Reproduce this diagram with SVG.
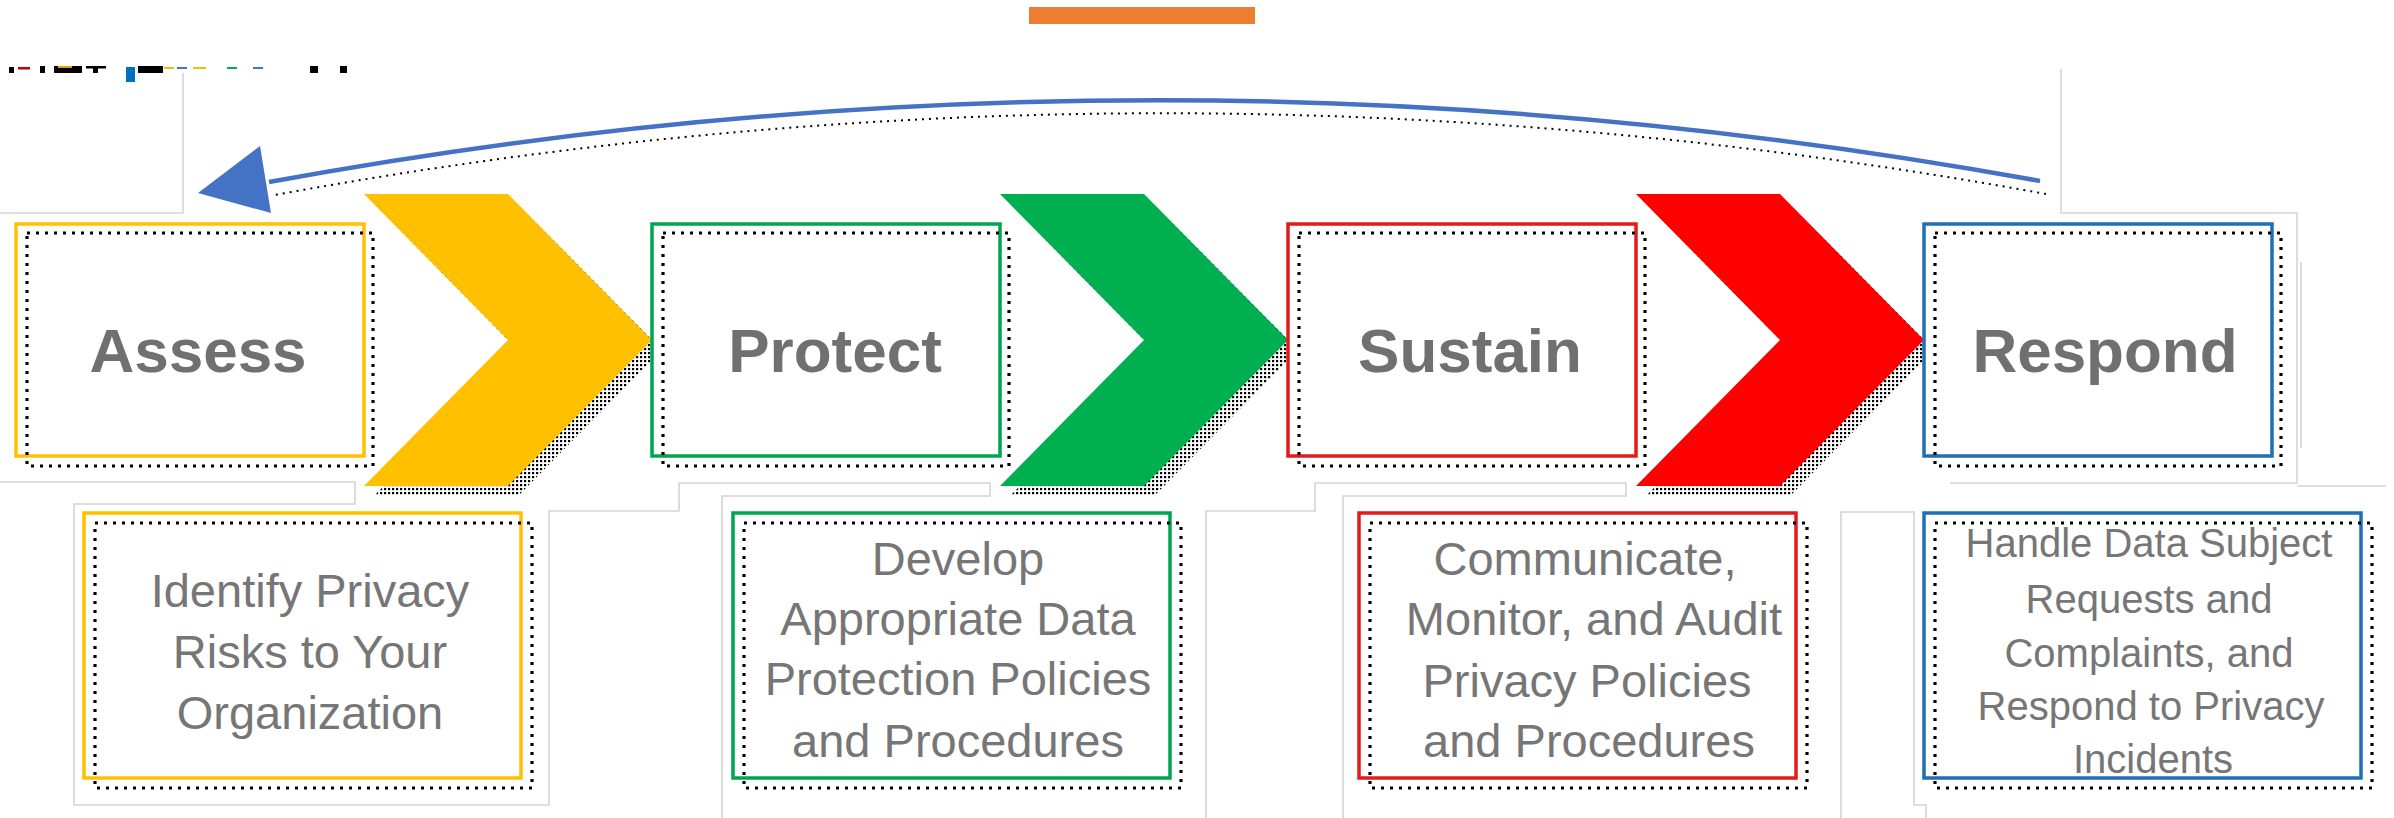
<svg xmlns="http://www.w3.org/2000/svg" width="2394" height="818" viewBox="0 0 2394 818">
<style>
.frame{fill:none;stroke:#d4d4d4;stroke-width:1.6}
.box{fill:#fff;stroke-width:3.5}
.shadow-line{fill:none;stroke:#000;stroke-width:3.2;stroke-dasharray:3 6}
.head{font-family:"Liberation Sans",Arial,sans-serif;font-weight:bold;font-size:62px;fill:#707070;text-anchor:middle}
.body{font-family:"Liberation Sans",Arial,sans-serif;font-size:47px;fill:#767676;text-anchor:middle}
.body-sm{font-family:"Liberation Sans",Arial,sans-serif;font-size:40px;fill:#767676;text-anchor:middle}
</style>
<defs>
<pattern id="dots" width="4" height="4" patternUnits="userSpaceOnUse"><rect width="2.2" height="2.2" fill="#000"/></pattern>
</defs>
<rect width="2394" height="818" fill="#fff"/>

<g id="frames">
<polyline class="frame" points="183,73 183,213 0,213"/>
<polyline class="frame" points="0,482 355,482 355,504 74,504 74,805 549,805 549,511 679,511 679,483 990,483 990,496 722,496 722,818"/>
<polyline class="frame" points="1206,818 1206,511 1315,511 1315,483 1626,483 1626,496 1343,496 1343,818"/>
<polyline class="frame" points="2061,69 2061,213 2297,213 2297,483 1950,483"/>
<polyline class="frame" points="2297,486 2386,486"/>
<polyline class="frame" points="2301,262 2301,448"/>
<polyline class="frame" points="1841,818 1841,512 1914,512 1914,805 1926,805 1926,818"/>
</g>

<g id="title-fragment">
<rect x="9" y="67" width="5" height="6" fill="#000"/>
<rect x="18" y="67" width="12" height="2.5" fill="#c00000"/>
<rect x="40" y="66" width="5" height="7" fill="#000"/>
<rect x="54" y="66" width="28" height="7" fill="#000"/>
<rect x="58" y="66" width="14" height="2" fill="#e8a000"/>
<rect x="86" y="66" width="20" height="2.5" fill="#000"/>
<rect x="93" y="66" width="5" height="7" fill="#000"/>
<rect x="126" y="67" width="9" height="15" fill="#0070c0"/>
<rect x="138" y="66" width="25" height="7" fill="#000"/>
<rect x="164" y="67" width="10" height="2" fill="#f0c000"/>
<rect x="177" y="67" width="10" height="2" fill="#4472c4"/>
<rect x="193" y="67" width="13" height="2" fill="#f0c000"/>
<rect x="227" y="67" width="10" height="2" fill="#00b050"/>
<rect x="253" y="67" width="10" height="2" fill="#4472c4"/>
<rect x="310" y="66" width="8" height="7" fill="#000"/>
<rect x="340" y="66" width="7" height="7" fill="#000"/>
</g>

<rect id="orange-bar" x="1029" y="7" width="226" height="17" fill="#ed7d31"/>

<g id="chevron-yellow">
<polygon points="374,204 518,204 662,350 518,496 374,496 518,350" fill="url(#dots)"/>
<polygon points="364,194 508,194 652,340 508,486 364,486 508,340" fill="#ffc000"/>
</g>
<g id="chevron-green">
<polygon points="1010,204 1154,204 1298,350 1154,496 1010,496 1154,350" fill="url(#dots)"/>
<polygon points="1000,194 1144,194 1288,340 1144,486 1000,486 1144,340" fill="#00b050"/>
</g>
<g id="chevron-red">
<polygon points="1646,204 1790,204 1934,350 1790,496 1646,496 1790,350" fill="url(#dots)"/>
<polygon points="1636,194 1780,194 1924,340 1780,486 1636,486 1780,340" fill="#ff0000"/>
</g>

<g id="node-assess">
<rect class="box" x="16" y="224" width="348" height="232" stroke="#ffc000"/>
<rect class="shadow-line" x="27" y="233" width="346" height="233"/>
<text class="head" x="198" y="372">Assess</text>
</g>
<g id="node-protect">
<rect class="box" x="652" y="224" width="348" height="232" stroke="#00a550"/>
<rect class="shadow-line" x="663" y="233" width="346" height="233"/>
<text class="head" x="835" y="372">Protect</text>
</g>
<g id="node-sustain">
<rect class="box" x="1288" y="224" width="348" height="232" stroke="#e31b1b"/>
<rect class="shadow-line" x="1299" y="233" width="346" height="233"/>
<text class="head" x="1470" y="372">Sustain</text>
</g>
<g id="node-respond">
<rect class="box" x="1924" y="224" width="348" height="232" stroke="#1f6fb5"/>
<rect class="shadow-line" x="1935" y="233" width="346" height="233"/>
<text class="head" x="2105" y="372">Respond</text>
</g>

<g id="node-assess-detail">
<rect class="box" x="84" y="513" width="437" height="265" stroke="#ffc000"/>
<rect class="shadow-line" x="95" y="523" width="437" height="265"/>
<text class="body" x="310"><tspan x="310" y="607">Identify Privacy</tspan><tspan x="310" y="668">Risks to Your</tspan><tspan x="310" y="729">Organization</tspan></text>
</g>
<g id="node-protect-detail">
<rect class="box" x="733" y="513" width="437" height="265" stroke="#00a550"/>
<rect class="shadow-line" x="744" y="523" width="437" height="265"/>
<text class="body" x="958"><tspan x="958" y="575">Develop</tspan><tspan x="958" y="635">Appropriate Data</tspan><tspan x="958" y="695">Protection Policies</tspan><tspan x="958" y="757">and Procedures</tspan></text>
</g>
<g id="node-sustain-detail">
<rect class="box" x="1359" y="513" width="437" height="265" stroke="#e31b1b"/>
<rect class="shadow-line" x="1370" y="523" width="437" height="265"/>
<text class="body" x="1585"><tspan x="1585" y="575">Communicate,</tspan><tspan x="1594" y="635">Monitor, and Audit</tspan><tspan x="1587" y="697">Privacy Policies</tspan><tspan x="1589" y="757">and Procedures</tspan></text>
</g>
<g id="node-respond-detail">
<rect class="box" x="1924" y="513" width="437" height="265" stroke="#1f6fb5"/>
<rect class="shadow-line" x="1935" y="523" width="437" height="265"/>
<text class="body-sm" x="2149"><tspan x="2149" y="557">Handle Data Subject</tspan><tspan x="2149" y="613">Requests and</tspan><tspan x="2149" y="667">Complaints, and</tspan><tspan x="2151" y="720">Respond to Privacy</tspan><tspan x="2153" y="773">Incidents</tspan></text>
</g>

<g id="connectors">
<path d="M2046,194 Q1161,32 275,195" fill="none" stroke="#000" stroke-width="2" stroke-dasharray="2 5"/>
<path d="M2040,181 Q1155,19 269,182" fill="none" stroke="#4472c4" stroke-width="4.5"/>
<polygon points="198,193 260,146 271,213" fill="#4472c4"/>
</g>
</svg>
